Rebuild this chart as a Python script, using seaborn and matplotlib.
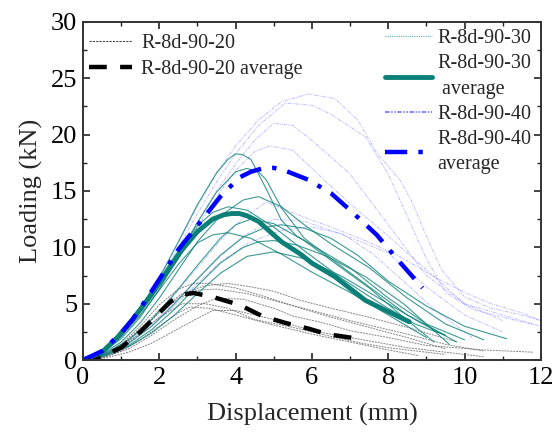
import numpy as np
import pandas as pd
import matplotlib
matplotlib.use("Agg")
import matplotlib.pyplot as plt
import seaborn as sns
from matplotlib.ticker import MultipleLocator
from matplotlib.lines import Line2D

# ---------------- data (displacement mm, load kN) ----------------
# R-8d-90-20 individual specimens
g20_x = [
    [0, 0.5, 1.0, 1.5, 2.0, 2.5, 2.9, 3.3, 4.0, 4.8, 5.7, 6.5, 7.5, 8.5, 9.5],
    [0, 0.5, 1.0, 1.5, 2.0, 2.5, 3.0, 3.5, 4.3, 5.2, 6.0, 7.0, 8.5, 9.5, 10.5],
    [0, 0.6, 1.2, 1.8, 2.4, 3.0, 3.5, 4.2, 5.0, 5.5, 6.3, 7.0, 8.0, 9.0, 10.5, 11.8],
    [0, 0.5, 1.0, 1.5, 2.0, 2.6, 3.2, 3.8, 4.5, 5.5, 6.5, 7.3, 8.0, 9.5],
    [0, 0.5, 1.0, 1.5, 2.0, 2.5, 2.8, 3.3, 4.0, 5.0, 6.0, 7.0, 8.0, 8.8],
    [0, 0.6, 1.2, 1.8, 2.4, 3.0, 3.4, 4.0, 5.0, 6.0, 7.0, 8.5, 10.5],
    [0, 0.5, 1.0, 1.5, 2.0, 2.6, 3.2, 3.8, 4.4, 5.0, 5.7, 6.5, 7.5, 8.5, 9.8],
]
g20_y = [
    [0, 0.4, 1.4, 3.0, 4.9, 6.3, 6.8, 6.8, 6.4, 5.6, 4.6, 3.8, 2.9, 2.0, 1.0],
    [0, 0.3, 1.2, 2.6, 4.2, 5.5, 6.2, 6.3, 5.9, 5.1, 4.4, 3.5, 2.3, 1.4, 0.8],
    [0, 0.3, 1.0, 2.2, 3.6, 4.8, 5.5, 5.4, 4.6, 3.9, 3.3, 2.6, 2.0, 1.3, 0.9, 0.7],
    [0, 0.3, 1.1, 2.4, 3.8, 5.0, 5.0, 4.6, 3.6, 2.9, 2.1, 1.5, 1.1, 0.5],
    [0, 0.2, 0.8, 1.8, 3.0, 4.2, 4.7, 4.6, 4.0, 3.1, 2.3, 1.6, 0.9, 0.4],
    [0, 0.2, 0.7, 1.5, 2.6, 3.7, 4.4, 4.4, 3.6, 2.6, 2.0, 1.1, 0.3],
    [0, 0.4, 1.3, 2.8, 4.4, 5.9, 6.6, 6.8, 6.5, 6.1, 5.3, 4.6, 3.8, 2.9, 1.6],
]

# R-8d-90-30 individual specimens
g30_x = [
    [0, 0.5, 1.0, 1.5, 2.0, 2.5, 3.0, 3.5, 3.8, 4.0, 4.2, 4.4, 4.8, 5.2, 5.6, 6.2, 7.0, 8.0, 9.0, 10.0],
    [0, 0.5, 1.0, 1.5, 2.0, 2.5, 3.0, 3.5, 4.0, 4.3, 4.6, 4.8, 5.2, 5.8, 6.5, 7.5, 8.5, 9.5],
    [0, 0.5, 1.0, 1.5, 2.0, 2.5, 3.0, 3.6, 4.2, 4.6, 5.2, 5.8, 6.5, 7.5, 8.5, 9.5, 10.5],
    [0, 0.6, 1.2, 1.8, 2.4, 3.0, 3.6, 4.0, 4.4, 5.0, 5.8, 6.6, 7.5, 8.4, 9.2],
    [0, 0.6, 1.2, 1.8, 2.4, 3.0, 3.6, 4.2, 4.8, 5.2, 5.8, 6.5, 7.2, 8.0, 9.0, 10.0, 11.1],
    [0, 0.5, 1.0, 1.5, 2.0, 2.5, 3.0, 3.4, 3.8, 4.4, 5.2, 6.0, 7.0, 8.0, 9.0],
    [0, 0.6, 1.2, 1.8, 2.4, 3.0, 3.6, 4.2, 4.6, 5.0, 5.6, 6.4, 7.4, 8.4, 9.6],
    [0, 0.6, 1.2, 1.8, 2.4, 3.0, 3.6, 4.3, 5.0, 5.8, 6.8, 7.8, 8.8, 9.8],
    [0, 0.5, 1.0, 1.5, 2.0, 2.5, 3.0, 3.4, 3.8, 4.3, 5.0, 5.8, 6.8, 7.8, 8.7, 9.5],
]
g30_y = [
    [0, 0.8, 2.3, 4.5, 7.3, 10.5, 13.8, 16.6, 17.8, 18.3, 18.2, 17.8, 15.2, 12.4, 11.0, 9.8, 8.2, 5.5, 3.2, 1.8],
    [0, 0.6, 1.9, 3.8, 6.3, 9.2, 12.2, 14.9, 16.7, 17.0, 16.7, 16.0, 13.5, 10.8, 9.0, 6.5, 4.0, 2.2],
    [0, 0.5, 1.6, 3.3, 5.5, 8.0, 10.5, 12.8, 14.2, 14.5, 13.6, 12.0, 10.3, 8.2, 5.5, 3.2, 1.8],
    [0, 0.6, 1.8, 3.6, 5.9, 8.4, 10.8, 12.0, 12.5, 12.1, 10.6, 8.6, 6.4, 3.8, 1.6],
    [0, 0.5, 1.5, 3.0, 5.0, 7.2, 9.3, 10.9, 11.8, 12.0, 11.7, 10.8, 9.3, 7.0, 4.8, 3.0, 1.9],
    [0, 0.7, 2.1, 4.0, 6.2, 8.5, 10.4, 11.1, 11.3, 10.8, 9.4, 7.8, 6.0, 4.0, 2.0],
    [0, 0.4, 1.3, 2.7, 4.5, 6.6, 8.6, 10.0, 10.5, 10.6, 10.2, 9.2, 7.4, 5.0, 1.4],
    [0, 0.4, 1.2, 2.4, 4.0, 5.9, 7.7, 9.2, 9.6, 9.0, 7.4, 5.4, 3.4, 1.6],
    [0, 0.9, 2.5, 4.7, 7.2, 9.7, 11.9, 13.1, 13.6, 13.3, 11.8, 9.7, 7.2, 5.0, 3.2, 2.2],
]

# R-8d-90-40 individual specimens
g40_x = [
    [0, 0.5, 1.0, 1.5, 2.0, 2.5, 3.0, 3.5, 4.0, 4.6, 5.2, 5.9, 6.6, 7.2, 7.7, 8.3, 8.6, 9.0, 9.4, 10.0, 10.7, 11.5, 12.0],
    [0, 0.5, 1.0, 1.5, 2.0, 2.5, 3.0, 3.5, 4.0, 4.6, 5.3, 6.0, 6.5, 7.4, 8.0, 8.6, 9.0, 9.5, 10.2, 11.0, 12.0],
    [0, 0.5, 1.0, 1.5, 2.0, 2.5, 3.0, 3.5, 4.0, 4.5, 5.0, 5.5, 6.0, 7.0, 8.0, 9.0, 10.0, 11.0, 11.8],
    [0, 0.5, 1.0, 1.5, 2.0, 2.5, 3.0, 3.5, 4.0, 4.5, 4.9, 5.5, 6.6, 7.3, 8.0, 9.0, 10.0, 11.0],
    [0, 0.6, 1.2, 1.8, 2.4, 3.0, 3.6, 4.2, 4.8, 5.7, 6.5, 7.4, 8.3, 9.2, 10.0, 10.7, 11.5, 12.0],
    [0, 0.6, 1.2, 1.8, 2.4, 3.0, 3.6, 4.2, 5.0, 5.8, 6.5, 7.2, 8.0, 9.0, 10.0, 11.0],
    [0, 0.6, 1.2, 1.8, 2.4, 3.0, 3.6, 4.4, 5.2, 6.0, 6.8, 7.6, 8.4, 9.2, 10.2],
]
g40_y = [
    [0, 0.8, 2.4, 4.6, 7.3, 10.4, 13.6, 16.6, 19.0, 21.3, 22.9, 23.6, 23.2, 21.3, 18.4, 16.0, 14.2, 11.0, 8.0, 5.6, 4.6, 4.0, 3.5],
    [0, 0.8, 2.3, 4.4, 7.0, 10.0, 13.0, 15.8, 18.3, 20.8, 22.8, 22.6, 21.8, 19.8, 16.5, 12.0, 9.0, 6.0, 4.5, 3.8, 3.0],
    [0, 0.7, 2.1, 4.1, 6.6, 9.4, 12.3, 15.0, 17.4, 19.5, 21.0, 20.8, 19.5, 16.5, 12.0, 7.5, 5.0, 4.0, 3.2],
    [0, 0.7, 2.0, 3.9, 6.3, 9.0, 11.8, 14.5, 16.8, 18.5, 19.0, 18.6, 15.1, 13.0, 11.0, 8.0, 5.0, 3.5],
    [0, 0.6, 1.8, 3.6, 5.8, 8.2, 10.6, 12.6, 14.0, 12.8, 11.8, 10.6, 9.2, 7.4, 6.0, 5.0, 4.2, 3.5],
    [0, 0.5, 1.6, 3.2, 5.1, 7.2, 9.2, 11.0, 12.5, 12.3, 11.5, 10.6, 9.5, 6.5, 4.0, 2.5],
    [0, 0.5, 1.5, 3.0, 4.8, 6.8, 8.7, 10.5, 11.5, 11.8, 11.2, 9.4, 7.0, 4.5, 2.0],
]

# averages
avg20_x = [0, 0.5, 1.0, 1.5, 2.0, 2.3, 2.6, 2.9, 3.4, 4.1, 4.7, 5.3, 5.9, 6.4, 7.2]
avg20_y = [0, 0.3, 1.1, 2.5, 4.2, 5.2, 5.8, 5.95, 5.6, 4.9, 3.9, 3.3, 2.8, 2.3, 1.9]
avg30_x = [0, 0.5, 0.9, 1.3, 1.75, 2.2, 2.6, 3.0, 3.4, 3.7, 3.9, 4.1, 4.3, 4.6, 5.2, 5.7, 6.0, 6.6, 7.4, 8.0, 8.55]
avg30_y = [0, 0.7, 2.0, 3.6, 5.6, 7.8, 9.8, 11.4, 12.5, 12.9, 13.0, 13.0, 12.8, 12.3, 10.5, 9.4, 8.6, 7.4, 5.3, 4.3, 3.4]
avg40_x = [0, 0.5, 1.0, 1.3, 1.7, 2.2, 2.5, 2.9, 3.25, 3.6, 4.1, 4.4, 4.7, 5.0, 5.3, 5.9, 6.5, 7.0, 7.7, 8.3, 8.9]
avg40_y = [0, 0.8, 2.4, 3.6, 5.6, 8.2, 9.8, 11.5, 13.0, 14.5, 16.2, 16.7, 17.0, 17.05, 16.8, 16.0, 14.8, 13.3, 11.1, 8.7, 6.4]

labels = ["R-8d-90-20", "R-8d-90-20 average", "R-8d-90-30", "R-8d-90-30\n average",
          "R-8d-90-40", "R-8d-90-40\naverage"]
x_ticks = [0, 2, 4, 6, 8, 10, 12]
y_ticks = [0, 5, 10, 15, 20, 25, 30]

# ---------------- style ----------------
sns.set_style("ticks")
plt.rcParams["font.family"] = ["Liberation Serif", "DejaVu Serif"]

TEAL = "#0b8078"
BLUE = "#0000ff"

fig = plt.figure(figsize=(5.57, 4.37), dpi=100)
ax = fig.add_axes([0.149, 0.176, 0.822, 0.774])


def draw(x, y, **kw):
    df = pd.DataFrame({"x": x, "y": y})
    sns.lineplot(data=df, x="x", y="y", ax=ax, sort=False, estimator=None, **kw)


# individual curves
for x, y in zip(g40_x, g40_y):
    draw(x, y, color="#8080ff", lw=0.7, alpha=0.55, linestyle=(0, (3, 1, 1, 1, 1, 1)))
for x, y in zip(g20_x, g20_y):
    draw(x, y, color="#666666", lw=0.7, alpha=0.8, linestyle=(0, (2, 1)))
for x, y in zip(g30_x, g30_y):
    draw(x, y, color=TEAL, lw=0.8, alpha=0.8)

# averages
draw(avg20_x, avg20_y, color="black", lw=3.2, linestyle=(0, (4, 3)))
draw(avg30_x, avg30_y, color=TEAL, lw=3.5)
draw(avg40_x, avg40_y, color=BLUE, lw=3.2, linestyle=(0, (5, 2.5, 1, 2.5)))

ax.set_xlim(0, 12)
ax.set_ylim(0, 30)
ax.set_xticks(x_ticks)
ax.set_yticks(y_ticks)
ax.xaxis.set_minor_locator(MultipleLocator(1))
ax.yaxis.set_minor_locator(MultipleLocator(2.5))
ax.tick_params(which="both", direction="in", top=True, right=True, labelsize=19,
               colors="#222222", labelcolor="black")
ax.tick_params(which="major", length=5, width=1.2)
ax.tick_params(which="minor", length=3, width=1.0)
ax.tick_params(axis="x", pad=5)
ax.tick_params(axis="y", pad=4)
for s in ax.spines.values():
    s.set_linewidth(1.4)
    s.set_color("#333333")

ax.set_xlabel("Displacement (mm)", fontsize=19, labelpad=10)
ax.set_ylabel("Loading (kN)", fontsize=19, labelpad=6)

h20 = Line2D([], [], color="#444444", lw=0.8, linestyle=(0, (2, 1)))
h20a = Line2D([], [], color="black", lw=3.2, linestyle=(0, (4, 3)))
h30 = Line2D([], [], color="#5fb0aa", lw=0.8, linestyle=(0, (1, 1)))
h30a = Line2D([], [], color=TEAL, lw=3.5)
h40 = Line2D([], [], color="#6666ff", lw=1.1, linestyle=(0, (3, 1, 1, 1, 1, 1)))
h40a = Line2D([], [], color=BLUE, lw=3.2, linestyle=(0, (5, 2.5, 1, 2.5)))

leg1 = ax.legend([h20, h20a], labels[:2], loc="upper left", frameon=False,
                 prop={"size": 14.5}, handlelength=2.15, handletextpad=0.45,
                 labelspacing=0.35, borderaxespad=0.0, borderpad=0.3,
                 bbox_to_anchor=(0.0, 0.982))
ax.add_artist(leg1)
leg2 = ax.legend([h30, h30a, h40, h40a], labels[2:], loc="upper right", frameon=False,
                 prop={"size": 14.5}, handlelength=2.35, handletextpad=0.25,
                 labelspacing=0.3, borderaxespad=0.0, borderpad=0.2,
                 bbox_to_anchor=(0.988, 0.99))
for t in leg2.get_texts():
    t.set_linespacing(1.45)

fig.savefig("out.png", dpi=100)
